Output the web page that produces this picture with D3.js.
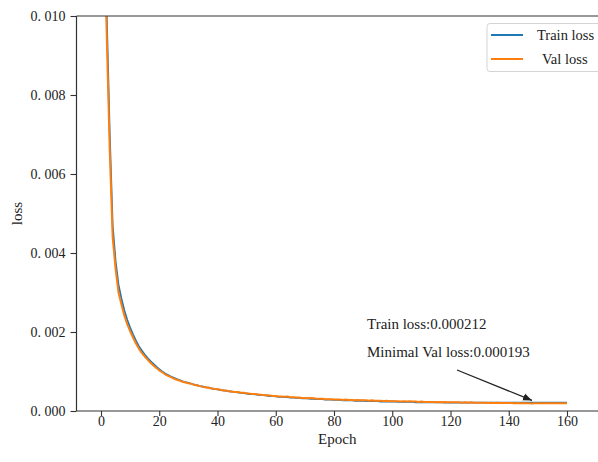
<!DOCTYPE html>
<meta charset="utf-8">
<script src="https://d3js.org/d3.v7.min.js"></script>
<style>
  body { margin: 0; background: #fff; }
  text { font-family: "Liberation Serif", "Times New Roman", serif; fill: #222; }
</style>
<div id="chart"></div>
<script>

// loss per epoch (epoch 0 .. 160)
var trainLoss = [
  0.0520, 0.0135, 0.0099, 0.0070, 0.0047, 0.0038, 0.0032, 0.00285, 0.00255, 0.00231,
  0.00211, 0.00194, 0.00178, 0.00164, 0.00153, 0.00143, 0.00134, 0.00126, 0.00119, 0.00112,
  0.00106, 0.00100, 0.00095, 0.00091, 0.00087, 0.00084, 0.00081, 0.00078, 0.00075, 0.00073,
  0.00071, 0.00069, 0.00067, 0.00065, 0.00063, 0.00062, 0.00060, 0.00059, 0.00057, 0.00056,
  0.00055, 0.00053, 0.00052, 0.00051, 0.00050, 0.00049, 0.00048, 0.00047, 0.00046, 0.00045,
  0.00044, 0.00043, 0.00043, 0.00042, 0.00041, 0.00040, 0.00040, 0.00039, 0.00038, 0.00038,
  0.00037, 0.00036, 0.00036, 0.00035, 0.00035, 0.00034, 0.00034, 0.00033, 0.00033, 0.00032,
  0.00032, 0.00032, 0.00031, 0.00031, 0.00030, 0.00030, 0.00030, 0.00029, 0.00029, 0.00029,
  0.00028, 0.00028, 0.00028, 0.00027, 0.00027, 0.00027, 0.00027, 0.00026, 0.00026, 0.00026,
  0.00026, 0.00025, 0.00025, 0.00025, 0.00025, 0.00025, 0.00024, 0.00024, 0.00024, 0.00024,
  0.00024, 0.00024, 0.00023, 0.00023, 0.00023, 0.00023, 0.00023, 0.00023, 0.00022, 0.00022,
  0.00022, 0.00022, 0.00022, 0.00022, 0.00022, 0.00022, 0.00022, 0.00022, 0.00021, 0.00021,
  0.00021, 0.00021, 0.00021, 0.00021, 0.00021, 0.00021, 0.00021, 0.00021, 0.00021, 0.00021,
  0.00021, 0.00021, 0.00021, 0.00021, 0.00021, 0.00021, 0.00021, 0.00021, 0.00021, 0.00021,
  0.000213, 0.000212, 0.000213, 0.000212, 0.000212, 0.000213, 0.000212, 0.000212, 0.000212, 0.000211,
  0.000212, 0.000212, 0.000211, 0.000212, 0.000212, 0.000212, 0.000211, 0.000212, 0.000212, 0.000212,
  0.000212
];

var valLoss = [
  0.0450, 0.0125, 0.0094, 0.0066, 0.0044, 0.0036, 0.0030, 0.0027, 0.00242, 0.00220,
  0.00202, 0.00186, 0.00171, 0.00158, 0.00147, 0.00138, 0.00130, 0.00122, 0.00115, 0.00109,
  0.00103, 0.00098, 0.00093, 0.00089, 0.00086, 0.00082, 0.00079, 0.00077, 0.00074, 0.00072,
  0.00070, 0.00069, 0.00066, 0.00065, 0.00063, 0.00061, 0.00060, 0.00059, 0.00057, 0.00056,
  0.00055, 0.00054, 0.00052, 0.00052, 0.00050, 0.00049, 0.00048, 0.00048, 0.00046, 0.00046,
  0.00045, 0.00044, 0.00043, 0.00043, 0.00042, 0.00041, 0.00040, 0.00040, 0.00039, 0.00038,
  0.00038, 0.00037, 0.00037, 0.00036, 0.00037, 0.00035, 0.00035, 0.00034, 0.00034, 0.00033,
  0.00033, 0.00032, 0.00033, 0.00032, 0.00031, 0.00031, 0.00031, 0.00030, 0.00030, 0.00030,
  0.00029, 0.00029, 0.00029, 0.00028, 0.00029, 0.00028, 0.00028, 0.00027, 0.00028, 0.00027,
  0.00027, 0.00027, 0.00026, 0.00027, 0.00026, 0.00026, 0.00026, 0.00025, 0.00026, 0.00025,
  0.00025, 0.00025, 0.00025, 0.00024, 0.00025, 0.00024, 0.00025, 0.00024, 0.00024, 0.00023,
  0.00024, 0.00023, 0.00023, 0.00023, 0.00023, 0.00022, 0.00023, 0.00022, 0.00023, 0.00022,
  0.00022, 0.00022, 0.00022, 0.00022, 0.00021, 0.00022, 0.00021, 0.00022, 0.00021, 0.00021,
  0.00021, 0.00021, 0.00021, 0.00020, 0.00021, 0.00020, 0.00021, 0.00020, 0.00020, 0.00020,
  0.000201, 0.000200, 0.000199, 0.000205, 0.000198, 0.000197, 0.000199, 0.000195, 0.000193, 0.000196,
  0.000198, 0.000196, 0.000199, 0.000197, 0.000196, 0.000198, 0.000197, 0.000196, 0.000195, 0.000197,
  0.000196
];

var epochs = trainLoss.map(function(d, i) { return i; });
var seriesNames = ["Train loss", "Val loss"];
var seriesColors = ["#1f77b4", "#ff7f0e"];
var xTicks = [0, 20, 40, 60, 80, 100, 120, 140, 160];
var yTicks = [0, 0.002, 0.004, 0.006, 0.008, 0.010];
var notes = ["Train loss:0.000212", "Minimal Val loss:0.000193"];
var minEpoch = 148, minVal = 0.000193;

var W = 598, H = 462;
var pLeft = 76.5, pTop = 16, pRight = 598, pBottom = 411;

var svg = d3.select("#chart").append("svg")
    .attr("width", W)
    .attr("height", H);

var x = d3.scaleLinear().domain([0, 160]).range([101, 567]);
var y = d3.scaleLinear().domain([0, 0.010]).range([pBottom, pTop]);

// clip for the lines
svg.append("clipPath").attr("id", "clip")
  .append("rect")
    .attr("x", pLeft).attr("y", pTop)
    .attr("width", pRight - pLeft).attr("height", pBottom - pTop);

var line = d3.line()
    .x(function(d) { return x(d[0]); })
    .y(function(d) { return y(d[1]); });

[trainLoss, valLoss].forEach(function(s, k) {
  svg.append("path")
      .datum(epochs.map(function(e, i) { return [e, s[i]]; }))
      .attr("clip-path", "url(#clip)")
      .attr("fill", "none")
      .attr("stroke", seriesColors[k])
      .attr("stroke-width", k == 0 ? 1.8 : 2)
      .attr("stroke-linejoin", "round")
      .attr("d", line);
});

// axes
var xAxis = svg.append("g")
    .attr("transform", "translate(0," + pBottom + ")")
    .call(d3.axisBottom(x).tickValues(xTicks).tickSize(5).tickPadding(0).tickFormat(d3.format("d")));
var yAxis = svg.append("g")
    .attr("transform", "translate(" + pLeft + ",0)")
    .call(d3.axisLeft(y).tickValues(yTicks).tickSize(6).tickPadding(5)
      .tickFormat(function(d) { return d3.format(".3f")(d).replace(".", ". "); }));

[xAxis, yAxis].forEach(function(a) {
  a.select(".domain").remove();
  a.selectAll("line").attr("stroke", "#333").attr("stroke-width", 1.1);
  a.selectAll("text").style("font-size", "14px").attr("fill", "#333");
});

// spines (no right spine, the chart is cut at the right edge)
svg.append("line").attr("x1", pLeft).attr("x2", pLeft).attr("y1", pTop).attr("y2", pBottom)
    .attr("stroke", "#333").attr("stroke-width", 1.2);
svg.append("line").attr("x1", pLeft).attr("x2", pRight).attr("y1", pBottom).attr("y2", pBottom)
    .attr("stroke", "#333").attr("stroke-width", 1.2);
svg.append("line").attr("x1", pLeft).attr("x2", pRight).attr("y1", pTop).attr("y2", pTop)
    .attr("stroke", "#333").attr("stroke-width", 1.2);

// axis titles
svg.append("text")
    .attr("x", (pLeft + pRight) / 2).attr("y", 444)
    .attr("text-anchor", "middle")
    .style("font-size", "15px")
    .text("Epoch");
svg.append("text")
    .attr("transform", "translate(22," + ((pTop + pBottom) / 2) + ") rotate(-90)")
    .attr("text-anchor", "middle")
    .style("font-size", "15px")
    .text("loss");

// legend
var lg = svg.append("g");
lg.append("rect")
    .attr("x", 487).attr("y", 23.5)
    .attr("width", 130).attr("height", 48)
    .attr("rx", 3)
    .attr("fill", "#fff").attr("fill-opacity", 0.8)
    .attr("stroke", "#d4d4d4");
seriesNames.forEach(function(n, i) {
  var yy = 35 + i * 24;
  lg.append("line")
      .attr("x1", 491).attr("x2", 523)
      .attr("y1", yy).attr("y2", yy)
      .attr("stroke", seriesColors[i]).attr("stroke-width", 2);
  lg.append("text")
      .attr("x", i == 0 ? 537 : 542).attr("y", yy + 5)
      .style("font-size", "14.5px")
      .text(n);
});

// annotation
svg.append("defs").append("marker")
    .attr("id", "head")
    .attr("viewBox", "0 0 10 10")
    .attr("refX", 10).attr("refY", 5)
    .attr("markerWidth", 7).attr("markerHeight", 7)
    .attr("orient", "auto")
  .append("path")
    .attr("d", "M0,1 L10,5 L0,9 Z")
    .attr("fill", "#222");

svg.append("line")
    .attr("x1", 457).attr("y1", 370)
    .attr("x2", x(minEpoch)).attr("y2", y(minVal) - 3)
    .attr("stroke", "#222").attr("stroke-width", 1.3)
    .attr("marker-end", "url(#head)");

notes.forEach(function(t, i) {
  svg.append("text")
      .attr("x", 367).attr("y", 329 + i * 27.5)
      .style("font-size", "15px")
      .text(t);
});

</script>
